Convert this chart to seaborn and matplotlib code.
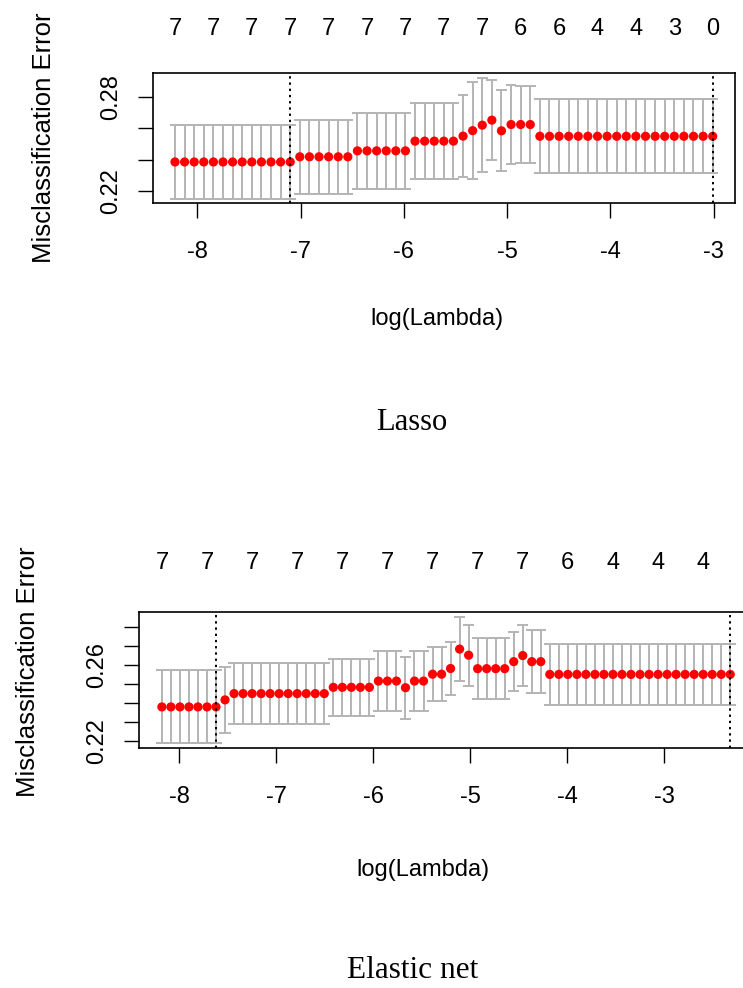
import matplotlib
matplotlib.use("Agg")
import matplotlib.pyplot as plt
import seaborn as sns
import pandas as pd

# ---------------- data ----------------
lasso_loglam = [-8.218, -8.125, -8.032, -7.939, -7.846, -7.753, -7.660, -7.567, -7.474, -7.381,
                -7.288, -7.195, -7.102, -7.009, -6.916, -6.823, -6.730, -6.637, -6.544, -6.451,
                -6.358, -6.265, -6.172, -6.079, -5.986, -5.893, -5.800, -5.707, -5.614, -5.521,
                -5.428, -5.335, -5.242, -5.149, -5.056, -4.963, -4.870, -4.777, -4.684, -4.591,
                -4.498, -4.405, -4.312, -4.219, -4.126, -4.033, -3.940, -3.847, -3.754, -3.661,
                -3.568, -3.475, -3.382, -3.289, -3.196, -3.103, -3.010]
lasso_cvm = [0.2385, 0.2385, 0.2385, 0.2385, 0.2385, 0.2385, 0.2385, 0.2385, 0.2385, 0.2385,
             0.2385, 0.2385, 0.2385, 0.2418, 0.2418, 0.2418, 0.2418, 0.2418, 0.2418, 0.2456,
             0.2456, 0.2456, 0.2456, 0.2456, 0.2456, 0.2518, 0.2518, 0.2518, 0.2518, 0.2518,
             0.2550, 0.2585, 0.2620, 0.2652, 0.2584, 0.2624, 0.2624, 0.2624, 0.2549, 0.2549,
             0.2549, 0.2549, 0.2549, 0.2549, 0.2549, 0.2549, 0.2549, 0.2549, 0.2549, 0.2549,
             0.2549, 0.2549, 0.2549, 0.2549, 0.2549, 0.2549, 0.2549]
lasso_cvsd = [0.0237, 0.0237, 0.0237, 0.0237, 0.0237, 0.0237, 0.0237, 0.0237, 0.0237, 0.0237,
              0.0237, 0.0237, 0.0237, 0.0238, 0.0238, 0.0238, 0.0238, 0.0238, 0.0238, 0.0243,
              0.0243, 0.0243, 0.0243, 0.0243, 0.0243, 0.0241, 0.0241, 0.0241, 0.0241, 0.0241,
              0.0261, 0.0308, 0.0302, 0.0257, 0.0258, 0.0252, 0.0247, 0.0247, 0.0236, 0.0236,
              0.0236, 0.0236, 0.0236, 0.0236, 0.0236, 0.0236, 0.0236, 0.0236, 0.0236, 0.0236,
              0.0236, 0.0236, 0.0236, 0.0236, 0.0236, 0.0236, 0.0236]
lasso_nzero = ["7", "7", "7", "7", "7", "7", "7", "7", "7", "6", "6", "4", "4", "3", "0"]
lasso_lambda_min = -7.102
lasso_lambda_1se = -3.010

enet_loglam = [-8.179, -8.086, -7.993, -7.900, -7.807, -7.714, -7.621, -7.528, -7.435, -7.342,
               -7.249, -7.156, -7.063, -6.970, -6.877, -6.784, -6.691, -6.598, -6.505, -6.412,
               -6.319, -6.226, -6.133, -6.040, -5.947, -5.854, -5.761, -5.668, -5.575, -5.482,
               -5.389, -5.296, -5.203, -5.110, -5.017, -4.924, -4.831, -4.738, -4.645, -4.552,
               -4.459, -4.366, -4.273, -4.180, -4.087, -3.994, -3.901, -3.808, -3.715, -3.622,
               -3.529, -3.436, -3.343, -3.250, -3.157, -3.064, -2.971, -2.878, -2.785, -2.692,
               -2.599, -2.506, -2.413, -2.320]
enet_cvm = [0.2380, 0.2380, 0.2380, 0.2380, 0.2380, 0.2380, 0.2380, 0.2417, 0.2450, 0.2450,
            0.2450, 0.2450, 0.2450, 0.2450, 0.2450, 0.2450, 0.2450, 0.2450, 0.2450, 0.2483,
            0.2483, 0.2483, 0.2483, 0.2483, 0.2516, 0.2516, 0.2516, 0.2481, 0.2516, 0.2516,
            0.2552, 0.2552, 0.2582, 0.2684, 0.2652, 0.2581, 0.2581, 0.2581, 0.2581, 0.2618,
            0.2650, 0.2618, 0.2618, 0.2551, 0.2551, 0.2551, 0.2551, 0.2551, 0.2551, 0.2551,
            0.2551, 0.2551, 0.2551, 0.2551, 0.2551, 0.2551, 0.2551, 0.2551, 0.2551, 0.2551,
            0.2551, 0.2551, 0.2551, 0.2551]
enet_cvsd = [0.0192, 0.0192, 0.0192, 0.0192, 0.0192, 0.0192, 0.0192, 0.0174, 0.0160, 0.0160,
             0.0160, 0.0160, 0.0160, 0.0160, 0.0160, 0.0160, 0.0160, 0.0160, 0.0160, 0.0151,
             0.0151, 0.0151, 0.0151, 0.0151, 0.0160, 0.0160, 0.0160, 0.0163, 0.0160, 0.0160,
             0.0141, 0.0141, 0.0138, 0.0169, 0.0160, 0.0162, 0.0162, 0.0162, 0.0162, 0.0155,
             0.0160, 0.0164, 0.0164, 0.0161, 0.0161, 0.0161, 0.0161, 0.0161, 0.0161, 0.0161,
             0.0161, 0.0161, 0.0161, 0.0161, 0.0161, 0.0161, 0.0161, 0.0161, 0.0161, 0.0161,
             0.0161, 0.0161, 0.0161, 0.0161]
enet_nzero = ["7", "7", "7", "7", "7", "7", "7", "7", "7", "6", "4", "4", "4"]
enet_lambda_min = -7.621
enet_lambda_1se = -2.320

x_ticks = [-8, -7, -6, -5, -4, -3]
x_tick_labels = ["-8", "-7", "-6", "-5", "-4", "-3"]

lasso_y_ticks = [0.22, 0.24, 0.26, 0.28]
lasso_y_labels = ["0.22", "", "", "0.28"]
enet_y_ticks = [0.22, 0.23, 0.24, 0.25, 0.26, 0.27, 0.28]
enet_y_labels = ["0.22", "", "", "", "0.26", "", ""]

# ---------------- style ----------------
sns.set_theme(style="ticks")
plt.rcParams['font.family'] = ['Liberation Sans', 'DejaVu Sans']
plt.rcParams['text.color'] = 'black'

W, H = 743, 988
fig = plt.figure(figsize=(W / 100, H / 100), dpi=100)
fig.patch.set_facecolor("white")

GRAY = "#b4b4b4"
FS = 17


def add_px_axes(left, top, right, bottom):
    return fig.add_axes([left / W, 1 - bottom / H, (right - left) / W, (bottom - top) / H])


def ftext(x, y, s, **kw):
    fig.text(x / W, 1 - y / H, s, color="black", **kw)


def draw_panel(ax, loglam, cvm, cvsd, nzero, step, lmin, l1se, xlim, ylim,
               yticks, ylabels, nz_offset):
    df = pd.DataFrame({"loglam": loglam, "cvm": cvm, "cvsd": cvsd})
    df["up"] = df["cvm"] + df["cvsd"]
    df["lo"] = df["cvm"] - df["cvsd"]
    barw = 0.01 * (df["loglam"].max() - df["loglam"].min())
    ax.vlines(df["loglam"], df["lo"], df["up"], color=GRAY, lw=1.4, zorder=1)
    ax.hlines(df["up"], df["loglam"] - barw, df["loglam"] + barw, color=GRAY, lw=1.4, zorder=1)
    ax.hlines(df["lo"], df["loglam"] - barw, df["loglam"] + barw, color=GRAY, lw=1.4, zorder=1)
    sns.scatterplot(data=df, x="loglam", y="cvm", color="red", s=44, edgecolor="none",
                    linewidth=0, ax=ax, zorder=3, legend=False)
    for v in (lmin, l1se):
        ax.axvline(v, color="black", lw=1.4, ls=(0, (1.2, 2.0)), zorder=4)
    ax.set_xlim(*xlim)
    ax.set_ylim(*ylim)
    ax.set_xlabel("")
    ax.set_ylabel("")
    ax.set_xticks(x_ticks)
    ax.set_xticklabels(x_tick_labels)
    ax.set_yticks(yticks)
    ax.set_yticklabels(ylabels, rotation=90, va="center")
    ax.tick_params(axis="both", direction="out", length=10.5, width=1.0, color="black",
                   labelsize=FS, labelcolor="black")
    ax.tick_params(axis="x", pad=17)
    ax.tick_params(axis="y", pad=12)
    for sp in ax.spines.values():
        sp.set_visible(True)
        sp.set_color("black")
        sp.set_linewidth(1.2)
    ax.set_facecolor("white")
    # number of non-zero coefficients along the top
    for xv, lab in zip(df["loglam"].iloc[::step], nzero):
        ax.annotate(lab, xy=(xv, 1), xycoords=("data", "axes fraction"),
                    xytext=(0, nz_offset), textcoords="offset points",
                    ha="center", va="center", fontsize=FS, color="black",
                    annotation_clip=False)


# ---------------- Lasso panel ----------------
ax1 = add_px_axes(153, 73, 735, 203)
draw_panel(ax1, lasso_loglam, lasso_cvm, lasso_cvsd, lasso_nzero, 4,
           lasso_lambda_min, lasso_lambda_1se, (-8.431, -2.794), (0.2123, 0.2953),
           lasso_y_ticks, lasso_y_labels, 32)

ftext(44, 138, "Misclassification Error", rotation=90, ha="center", va="center", fontsize=18.5)
ftext(437, 319, "log(Lambda)", ha="center", va="center", fontsize=FS)
ftext(412, 422, "Lasso", ha="center", va="center", fontsize=22,
      family=["Liberation Serif", "DejaVu Serif"])

# ---------------- Elastic net panel ----------------
ax2 = add_px_axes(139, 612, 748, 748)
draw_panel(ax2, enet_loglam, enet_cvm, enet_cvsd, enet_nzero, 5,
           enet_lambda_min, enet_lambda_1se, (-8.415, -2.137), (0.2164, 0.2879),
           enet_y_ticks, enet_y_labels, 35)

ftext(28, 672, "Misclassification Error", rotation=90, ha="center", va="center", fontsize=18.5)
ftext(423, 870, "log(Lambda)", ha="center", va="center", fontsize=FS)
ftext(413, 970, "Elastic net", ha="center", va="center", fontsize=22.5,
      family=["Liberation Serif", "DejaVu Serif"])

fig.savefig("out.png", dpi=100, facecolor="white")
